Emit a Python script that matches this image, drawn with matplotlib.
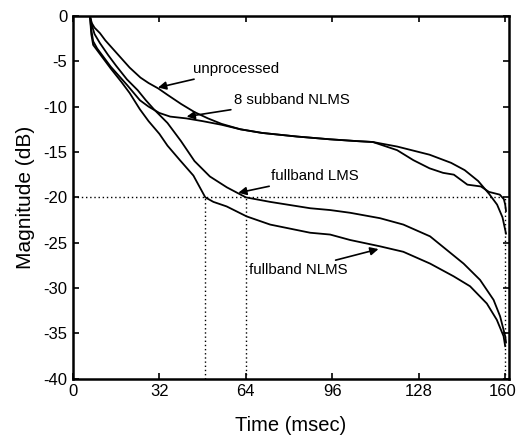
import matplotlib
matplotlib.use("Agg")
import matplotlib.pyplot as plt
import matplotlib.transforms as mtransforms

plt.rcParams['font.family'] = ['Liberation Sans', 'DejaVu Sans']
plt.rcParams['axes.unicode_minus'] = False

# ---- data ----
unproc_t = [6.3, 7.0, 8.0, 10.0, 12.0, 15.0, 18.0, 21.0, 25.0, 28.0, 31.6, 35.0, 40.0, 45.0,
            50.0, 55.0, 62.0, 70.0, 83.0, 95.0, 105.0, 111.0, 120.0, 132.0, 140.0, 145.0,
            150.0, 154.0, 157.0, 159.0, 160.3]
unproc_db = [0.0, -0.8, -1.3, -1.9, -2.7, -3.7, -4.7, -5.7, -6.8, -7.4, -8.0, -8.7, -9.7, -10.6,
             -11.3, -11.9, -12.5, -12.9, -13.3, -13.6, -13.8, -13.9, -14.4, -15.3, -16.2, -17.0,
             -18.2, -19.6, -20.8, -22.2, -24.0]

sub_t = [6.3, 6.8, 7.5, 9.0, 11.0, 14.0, 17.0, 20.0, 24.8, 28.0, 32.0, 36.0, 42.0, 48.0, 55.0,
         62.0, 70.0, 83.0, 95.0, 105.0, 111.0, 115.0, 120.0, 126.0, 132.0, 137.0, 141.0, 146.0,
         151.0, 154.0, 158.0, 159.5, 160.0, 160.3]
sub_db = [0.0, -1.5, -2.8, -3.6, -4.4, -5.6, -6.6, -7.6, -9.3, -10.0, -10.7, -11.1, -11.3, -11.6,
          -12.0, -12.5, -12.9, -13.3, -13.6, -13.8, -13.9, -14.3, -14.8, -15.9, -16.8, -17.3,
          -17.5, -18.6, -18.8, -19.4, -19.7, -20.2, -20.8, -21.5]

lms_t = [6.3, 7.0, 8.0, 10.0, 13.0, 16.0, 20.0, 24.0, 27.0, 30.0, 35.0, 40.0, 45.0, 50.7, 57.0,
         64.0, 73.0, 87.8, 95.2, 102.6, 113.7, 122.3, 132.2, 138.4, 144.6, 150.7, 155.7, 158.1,
         160.0, 160.3]
lms_db = [0.0, -1.0, -2.0, -3.0, -4.3, -5.5, -7.0, -8.2, -9.3, -10.3, -11.8, -13.8, -16.0, -17.7,
          -18.9, -20.0, -20.5, -21.2, -21.4, -21.7, -22.3, -23.0, -24.3, -25.8, -27.3, -29.1,
          -31.3, -33.1, -35.3, -36.0]

nlms_t = [6.3, 6.8, 7.5, 10.0, 14.0, 18.0, 21.0, 24.8, 28.0, 32.0, 35.0, 39.6, 44.6, 49.0, 52.0,
          56.9, 64.3, 73.0, 87.8, 95.2, 102.6, 113.7, 122.3, 132.2, 140.9, 147.0, 153.2, 156.9,
          159.4, 160.0]
nlms_db = [0.0, -2.0, -3.2, -4.2, -5.8, -7.3, -8.5, -10.3, -11.6, -13.0, -14.3, -15.9, -17.6,
           -20.0, -20.5, -21.0, -22.1, -23.0, -23.9, -24.1, -24.7, -25.4, -26.0, -27.3, -28.7,
           -29.8, -31.7, -33.5, -35.3, -36.4]

xticks = [0, 32, 64, 96, 128, 160]
yticks = [0, -5, -10, -15, -20, -25, -30, -35, -40]
ref_level = -20
cross_times = [49, 64, 160]

fig = plt.figure(figsize=(5.17, 4.41), dpi=100)
ax = fig.add_axes([0.141, 0.141, 0.844, 0.823])

for t, d in [(unproc_t, unproc_db), (sub_t, sub_db), (lms_t, lms_db), (nlms_t, nlms_db)]:
    ax.plot(t, d, color='black', lw=1.3)

# dotted reference lines
ax.plot([0, cross_times[-1]], [ref_level, ref_level], color='black', lw=1.0, ls=(0, (1, 2)))
for ct in cross_times:
    ax.plot([ct, ct], [-40, ref_level], color='black', lw=1.0, ls=(0, (1, 2)))

ax.set_xlim(0, 161.5)
ax.set_ylim(-40, 0)
ax.set_xticks(xticks)
ax.set_yticks(yticks)
ax.tick_params(direction='in', top=True, right=True, labelsize=12, length=4, width=1.2, pad=4)
for s in ax.spines.values():
    s.set_linewidth(1.8)

# keep the last x tick label inside the canvas
last = ax.get_xticklabels()[-1]
last.set_transform(last.get_transform() +
                   mtransforms.ScaledTranslation(-3 / 100, 0, fig.dpi_scale_trans))

ax.set_xlabel('Time (msec)', fontsize=14.5, labelpad=12)
ax.set_ylabel('Magnitude (dB)', fontsize=15, labelpad=6)

arrow = dict(arrowstyle='-|>', color='black', lw=1.2, mutation_scale=12, shrinkA=0, shrinkB=0)
fs = 10.8
ax.annotate('unprocessed', xy=(31.5, -7.9), xytext=(44.5, -5.9), fontsize=fs,
            va='center', ha='left', arrowprops=arrow)
ax.annotate('8 subband NLMS', xy=(42.1, -11.1), xytext=(59.5, -9.3), fontsize=fs,
            va='center', ha='left', arrowprops=arrow)
ax.annotate('fullband LMS', xy=(61.2, -19.5), xytext=(73.5, -17.7), fontsize=fs,
            va='center', ha='left', arrowprops=arrow)
ax.annotate('fullband NLMS', xy=(113.1, -25.7), xytext=(101.5, -28.0), fontsize=fs,
            va='center', ha='right', arrowprops=arrow)

fig.savefig('out.png', dpi=100)
